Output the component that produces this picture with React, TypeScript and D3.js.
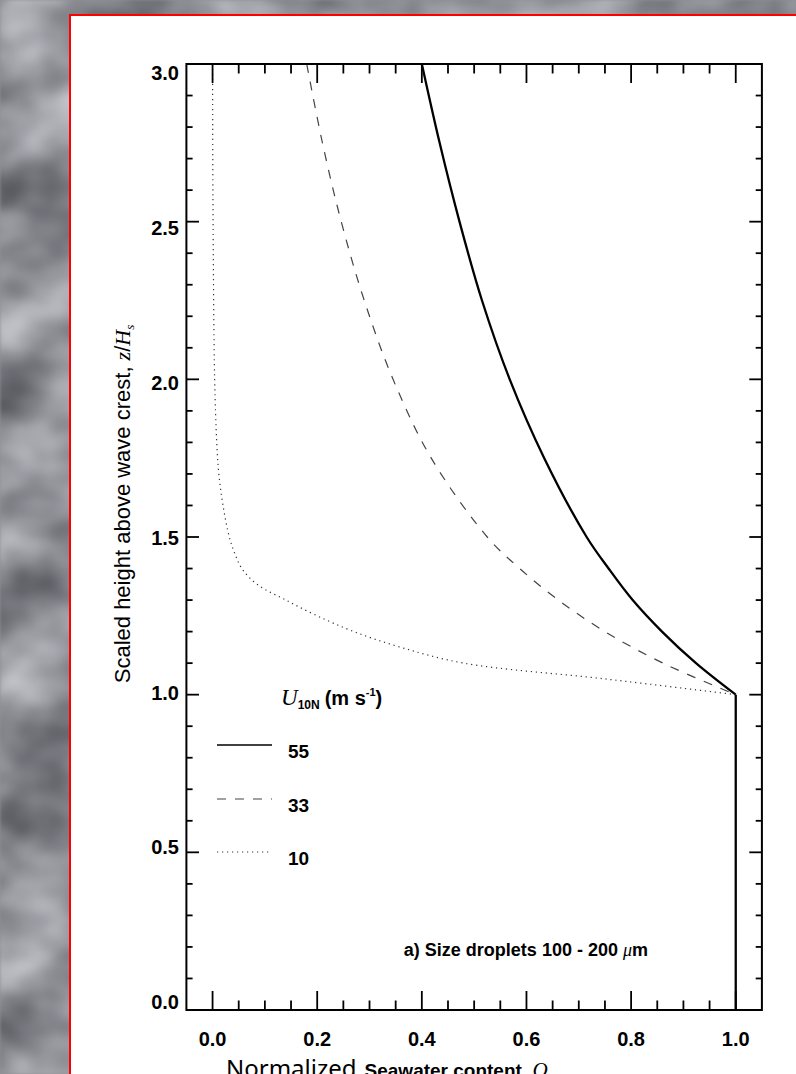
import React from 'react';
import * as d3 from 'd3';

// ---------- data ----------
const zAbove = [3.0, 2.75, 2.5, 2.25, 2.0, 1.75, 1.5, 1.4, 1.3, 1.2, 1.1, 1.0];
const q55 = [0.40, 0.434, 0.472, 0.515, 0.568, 0.634, 0.715, 0.757, 0.803, 0.859, 0.924, 1.0];
const q33 = [0.18, 0.21, 0.246, 0.29, 0.345, 0.418, 0.525, 0.587, 0.661, 0.75, 0.861, 1.0];
const zWind10 = [3.0, 2.5, 2.0, 1.8, 1.7, 1.6, 1.5, 1.45, 1.4, 1.35, 1.3, 1.25, 1.2, 1.15, 1.1, 1.05, 1.0];
const q10 = [0.0, 0.001, 0.004, 0.008, 0.012, 0.02, 0.032, 0.042, 0.056, 0.085, 0.14, 0.2, 0.27, 0.36, 0.48, 0.75, 1.0];
const zBelowCrest = [1.0, 0.0];
const qBelowCrest = [1.0, 1.0];

const xTicks = [0.0, 0.2, 0.4, 0.6, 0.8, 1.0];
const xTickLabels = ['0.0', '0.2', '0.4', '0.6', '0.8', '1.0'];
const yTicks = [0.0, 0.5, 1.0, 1.5, 2.0, 2.5, 3.0];
const yTickLabels = ['0.0', '0.5', '1.0', '1.5', '2.0', '2.5', '3.0'];
const legendSpeeds = ['55', '33', '10'];

// ---------- layout ----------
const W = 796;
const H = 1074;
const SANS = "'Liberation Sans', Arial, Helvetica, sans-serif";
const SERIF = "'Liberation Serif', 'Times New Roman', serif";
const NOTO = "'Noto Sans', 'Open Sans', sans-serif";

const x = d3.scaleLinear().domain([-0.05, 1.05]).range([186.4, 761.9]);
const y = d3.scaleLinear().domain([0, 3]).range([1010, 64]);
const yLabel = d3.scaleLinear().domain([0, 3]).range([1002, 73]);

const line = d3
  .line<[number, number]>()
  .x((d) => x(d[0]))
  .y((d) => y(d[1]))
  .curve(d3.curveCatmullRom.alpha(0.5));

const zip = (q: number[], z: number[]) => q.map((v, i) => [v, z[i]] as [number, number]);

const series = [
  { key: legendSpeeds[0], pts: zip(q55, zAbove), stroke: '#000', width: 2.3, dash: undefined as string | undefined },
  { key: legendSpeeds[1], pts: zip(q33, zAbove), stroke: '#444', width: 1.2, dash: '9 9' },
  { key: legendSpeeds[2], pts: zip(q10, zWind10), stroke: '#333', width: 1.2, dash: '1.2 3.8' },
];

const xMinor = d3.range(1, 21).map((i) => i * 0.05).filter((v) => Math.abs(v * 5 - Math.round(v * 5)) > 1e-6);
const yMinor = d3.range(1, 30).map((i) => i * 0.1).filter((v) => Math.abs(v * 2 - Math.round(v * 2)) > 1e-6);

export default function App() {
  const left = x(-0.05);
  const right = x(1.05);
  const top = y(3);
  const bottom = y(0);
  const tick = { stroke: '#000', strokeWidth: 1.8 };

  const legendY = [745, 799, 852];

  return (
    <svg
      width={W}
      height={H}
      viewBox={`0 0 ${W} ${H}`}
      style={{ position: 'absolute', left: 0, top: 0, display: 'block' }}
    >
      <defs>
        <filter id="bgtex" x="0" y="0" width="100%" height="100%" colorInterpolationFilters="sRGB">
          <feTurbulence type="fractalNoise" baseFrequency="0.011 0.014" numOctaves={3} seed={11} result="n" />
          <feColorMatrix
            in="n"
            type="matrix"
            values="0.62 0 0 0 0.24  0.62 0 0 0 0.245  0.62 0 0 0 0.27  0 0 0 0 1"
            result="c"
          />
          <feGaussianBlur in="c" stdDeviation="1.5" />
        </filter>
      </defs>

      {/* textured background */}
      <rect x={0} y={0} width={W} height={H} fill="#8d9096" />
      <rect x={0} y={0} width={W} height={H} filter="url(#bgtex)" />

      {/* white panel with red border */}
      <rect x={70} y={15} width={W + 10} height={H + 10} fill="#fff" stroke="#ff0000" strokeWidth={2} />

      {/* curves */}
      <g fill="none" strokeLinejoin="round">
        {series.map((s) => (
          <path
            key={s.key}
            d={line(s.pts) || ''}
            stroke={s.stroke}
            strokeWidth={s.width}
            strokeDasharray={s.dash}
          />
        ))}
        <path d={line(zip(qBelowCrest, zBelowCrest)) || ''} stroke="#000" strokeWidth={2.3} />
      </g>

      {/* frame */}
      <rect x={left} y={top} width={right - left} height={bottom - top} fill="none" stroke="#000" strokeWidth={2} />

      {/* ticks */}
      <g {...tick}>
        {xTicks.map((t) => (
          <g key={'xt' + t}>
            <line x1={x(t)} x2={x(t)} y1={bottom} y2={bottom - 19} />
            <line x1={x(t)} x2={x(t)} y1={top} y2={top + 19} />
          </g>
        ))}
        {xMinor.map((t) => (
          <g key={'xm' + t}>
            <line x1={x(t)} x2={x(t)} y1={bottom} y2={bottom - 9.5} />
            <line x1={x(t)} x2={x(t)} y1={top} y2={top + 9.5} />
          </g>
        ))}
        {yTicks.map((t) => (
          <g key={'yt' + t}>
            <line x1={left} x2={left + 12.6} y1={y(t)} y2={y(t)} />
            <line x1={right} x2={right - 12.6} y1={y(t)} y2={y(t)} />
          </g>
        ))}
        {yMinor.map((t) => (
          <g key={'ym' + t}>
            <line x1={left} x2={left + 6.2} y1={y(t)} y2={y(t)} />
            <line x1={right} x2={right - 6.2} y1={y(t)} y2={y(t)} />
          </g>
        ))}
      </g>

      {/* tick labels */}
      <g fontFamily={SANS} fontSize={20} fontWeight="bold" fill="#000">
        {xTicks.map((t, i) => (
          <text key={'xl' + t} x={x(t)} y={1046} textAnchor="middle">
            {xTickLabels[i]}
          </text>
        ))}
        {yTicks.map((t, i) => (
          <text key={'yl' + t} x={179} y={yLabel(t)} dy="0.36em" textAnchor="end">
            {yTickLabels[i]}
          </text>
        ))}
      </g>

      {/* y axis title */}
      <text
        transform="translate(130,504) rotate(-90)"
        textAnchor="middle"
        fontFamily={SANS}
        fontSize={22}
        fill="#000"
      >
        {'Scaled height above wave crest, '}
        <tspan fontFamily={SERIF} fontStyle="italic">z</tspan>
        {'/'}
        <tspan fontFamily={SERIF} fontStyle="italic">H</tspan>
        <tspan fontFamily={SERIF} fontStyle="italic" fontSize={13} dy={4}>s</tspan>
      </text>

      {/* x axis title */}
      <text x={226} y={1077} fill="#000">
        <tspan fontFamily={NOTO} fontSize={24}>Normalized</tspan>
        <tspan dx={8} fontFamily={SANS} fontSize={19} fontWeight="bold">{'Seawater content, '}</tspan>
        <tspan fontFamily={SERIF} fontSize={21} fontStyle="italic">Q</tspan>
      </text>

      {/* legend */}
      <text x={281} y={705} fontFamily={SANS} fontSize={20} fontWeight="bold" fill="#000">
        <tspan fontFamily={SERIF} fontStyle="italic" fontWeight="normal" fontSize={23}>U</tspan>
        <tspan fontSize={12} dy={4}>10N</tspan>
        <tspan dx={5} dy={-4}>(m s</tspan>
        <tspan fontSize={11} dy={-9}>-1</tspan>
        <tspan dy={9}>)</tspan>
      </text>
      {series.map((s, i) => (
        <g key={'lg' + s.key}>
          <line
            x1={217}
            x2={272}
            y1={legendY[i]}
            y2={legendY[i]}
            stroke={s.stroke}
            strokeWidth={i === 0 ? 1.3 : s.width}
            strokeDasharray={s.dash}
          />
          <text x={288} y={legendY[i] + 12.5} fontFamily={SANS} fontSize={19} fontWeight="bold" fill="#000">
            {s.key}
          </text>
        </g>
      ))}

      {/* annotation */}
      <text x={648} y={956} textAnchor="end" fontFamily={SANS} fontSize={18} fontWeight="bold" fill="#000">
        {'a) Size droplets 100 - 200 '}
        <tspan fontFamily={SERIF} fontStyle="italic" fontWeight="normal">μ</tspan>
        {'m'}
      </text>
    </svg>
  );
}
